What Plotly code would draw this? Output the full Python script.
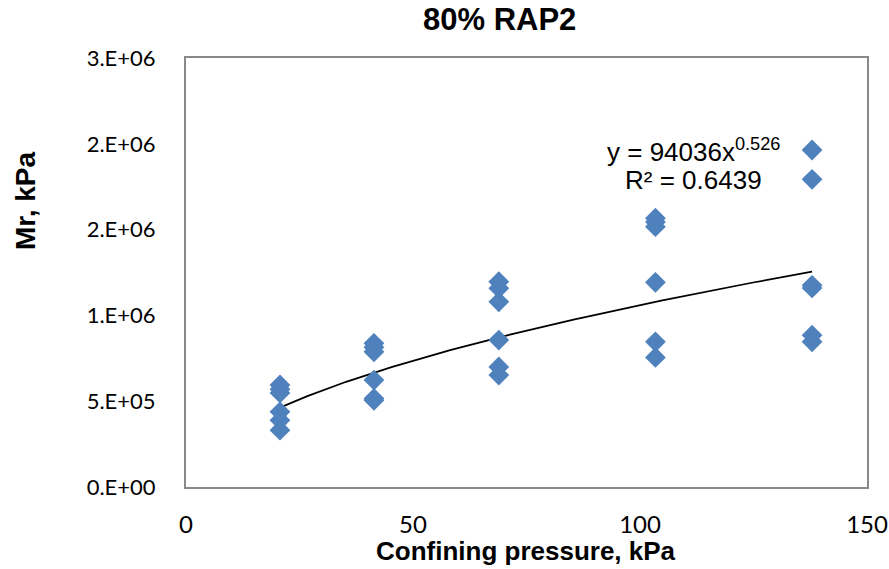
import plotly.graph_objects as go
import numpy as np

# Confining pressure levels (kPa) and resilient modulus readings (kPa)
pressure_levels = [20.7, 41.4, 68.9, 103.4, 137.9]
mr_at_20_7 = [595000, 570000, 548000, 438000, 389000, 331000]
mr_at_41_4 = [837000, 815000, 788000, 623000, 516000, 505000]
mr_at_68_9 = [1196000, 1158000, 1079000, 856000, 700000, 652000]
mr_at_103_4 = [1566000, 1545000, 1517000, 1193000, 846000, 755000]
mr_at_137_9 = [1964000, 1793000, 1175000, 1160000, 885000, 846000]

# Power trendline y = a * x^b
trend_a = 94036
trend_b = 0.526
r_squared = 0.6439

y_tick_vals = [0, 500000, 1000000, 1500000, 2000000, 2500000]
y_tick_text = ["0.E+00", "5.E+05", "1.E+06", "2.E+06", "2.E+06", "3.E+06"]
x_tick_vals = [0, 50, 100, 150]

groups = [mr_at_20_7, mr_at_41_4, mr_at_68_9, mr_at_103_4, mr_at_137_9]
xs, ys = [], []
for p, vals in zip(pressure_levels, groups):
    xs += [p] * len(vals)
    ys += vals

fig = go.Figure()

x_fit = np.linspace(min(pressure_levels), max(pressure_levels), 200)
y_fit = trend_a * x_fit ** trend_b
fig.add_trace(go.Scatter(x=x_fit, y=y_fit, mode="lines",
                         line=dict(color="black", width=1.75), hoverinfo="skip"))

fig.add_trace(go.Scatter(x=xs, y=ys, mode="markers",
                         marker=dict(symbol="diamond", size=16, color="#4F81BD",
                                     line=dict(width=0))))

# plot area in pixels
L, R, T, B = 186, 867, 58, 487
W, H = 889, 569


def px(xp):
    return (xp - L) / (R - L)


def py(yp):
    return (B - yp) / (B - T)


fig.update_layout(
    width=W, height=H,
    margin=dict(l=L, r=W - R, t=T, b=H - B),
    paper_bgcolor="white", plot_bgcolor="white",
    showlegend=False,
    font=dict(family="Lato", color="black"),
)

fig.update_xaxes(range=[0, 150], tickvals=x_tick_vals, showgrid=False, zeroline=False,
                 showline=True, mirror=True, linecolor="#898989", linewidth=2,
                 ticks="", tickfont=dict(family="Lato", size=24, color="black"),
                 ticklabelstandoff=15, automargin=False)
fig.update_yaxes(range=[0, 2500000], tickvals=y_tick_vals, ticktext=y_tick_text,
                 showgrid=False, zeroline=False,
                 showline=True, mirror=True, linecolor="#898989", linewidth=2,
                 ticks="", tickfont=dict(family="Lato", size=22, color="black"),
                 ticklabelstandoff=24, automargin=False)

annotations = [
    dict(text="<b>80% RAP2</b>", x=px(499), y=py(20), xref="paper", yref="paper",
         showarrow=False, font=dict(family="Liberation Sans", size=31, color="black"),
         xanchor="center", yanchor="middle"),
    dict(text="<b>Confining pressure, kPa</b>", x=px(526), y=py(551), xref="paper", yref="paper",
         showarrow=False, font=dict(family="Liberation Sans", size=26, color="black"),
         xanchor="center", yanchor="middle"),
    dict(text="<b>Mr, kPa</b>", x=px(25), y=py(201), xref="paper", yref="paper",
         showarrow=False, textangle=-90,
         font=dict(family="Liberation Sans", size=28, color="black"),
         xanchor="center", yanchor="middle"),
    dict(text=f"y = {trend_a}x<sup>{trend_b}</sup>", x=px(693), y=py(150), xref="paper", yref="paper",
         showarrow=False, font=dict(family="Liberation Sans", size=26, color="black"),
         xanchor="center", yanchor="middle"),
    dict(text=f"R² = {r_squared}", x=px(693), y=py(180), xref="paper", yref="paper",
         showarrow=False, font=dict(family="Liberation Sans", size=26, color="black"),
         xanchor="center", yanchor="middle"),
]
fig.update_layout(annotations=annotations)

fig.write_html("out.html")
